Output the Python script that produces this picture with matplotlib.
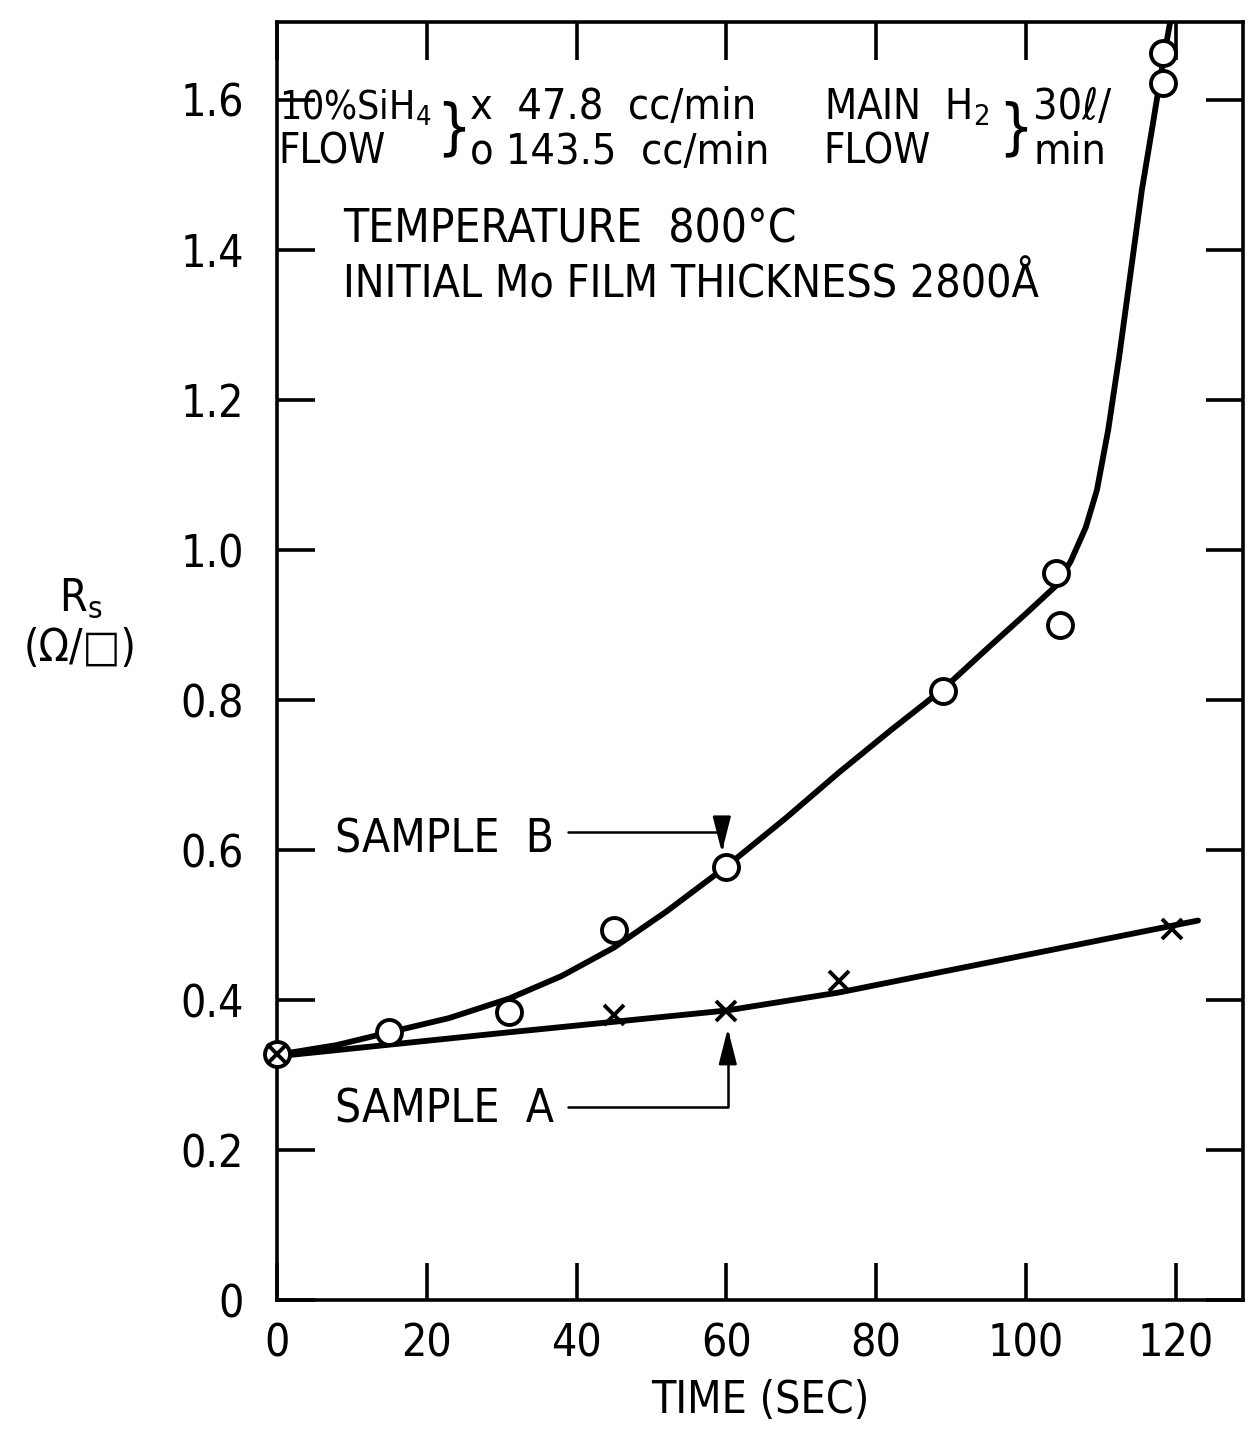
import matplotlib
matplotlib.use("Agg")
import matplotlib.pyplot as plt

plt.rcParams['font.family'] = ['DejaVu Sans']
plt.rcParams['font.stretch'] = 'condensed'
plt.rcParams['mathtext.default'] = 'regular'

# sample B (143.5 cc/min) measured points
b_time = [0, 15, 31, 45, 60, 89, 104, 104.5, 118.3, 118.3]
b_rs = [0.328, 0.358, 0.384, 0.494, 0.577, 0.812, 0.970, 0.900, 1.662, 1.622]
# sample A (47.8 cc/min) measured points
a_time = [0, 45, 60, 75, 119.5]
a_rs = [0.328, 0.380, 0.386, 0.425, 0.495]

# hand drawn fit curves
b_fit_t = [0, 8, 15, 23, 31, 38, 45, 52, 60, 68, 75, 82, 89, 95, 100, 104, 106,
           108, 109.5, 111, 112.5, 114, 115.5, 117, 118.3, 119.3]
b_fit_r = [0.327, 0.340, 0.357, 0.376, 0.402, 0.432, 0.470, 0.518, 0.578, 0.643,
           0.703, 0.760, 0.815, 0.870, 0.915, 0.952, 0.985, 1.030, 1.080, 1.160,
           1.260, 1.370, 1.480, 1.570, 1.650, 1.705]
a_fit_t = [0, 30, 45, 60, 75, 90, 105, 123]
a_fit_r = [0.325, 0.356, 0.371, 0.386, 0.410, 0.440, 0.470, 0.506]

x_ticks = [0, 20, 40, 60, 80, 100, 120]
y_ticks = [0, 0.2, 0.4, 0.6, 0.8, 1.0, 1.2, 1.4, 1.6]
y_labels = ['0', '0.2', '0.4', '0.6', '0.8', '1.0', '1.2', '1.4', '1.6']

fig = plt.figure(figsize=(12.54, 14.37), dpi=100)
ax = fig.add_axes([0.2209, 0.0953, 0.7703, 0.8894])

ax.plot(b_fit_t, b_fit_r, color='black', lw=4.2, solid_joinstyle='round',
        solid_capstyle='round', zorder=2)
ax.plot(a_fit_t, a_fit_r, color='black', lw=4.2, solid_joinstyle='round',
        solid_capstyle='round', zorder=2)
ax.plot(b_time, b_rs, 'o', ms=18, mfc='white', mec='black', mew=2.8,
        zorder=3, clip_on=False)
ax.plot(a_time, a_rs, 'x', ms=15, mec='black', mew=2.8, zorder=4,
        clip_on=False)

ax.set_xlim(0, 129)
ax.set_ylim(0, 1.704)
ax.set_xticks(x_ticks)
ax.set_yticks(y_ticks)
ax.set_yticklabels(y_labels)
ax.tick_params(direction='in', length=27, width=2.6, labelsize=32,
               top=True, right=True)
ax.tick_params(axis='y', pad=24)
ax.tick_params(axis='x', pad=16)
for s in ax.spines.values():
    s.set_linewidth(2.6)

ax.set_xlabel('TIME (SEC)', fontsize=32, labelpad=10)
fig.text(0.064, 0.584, 'R$_s$', fontsize=32, ha='center', va='center')
fig.text(0.064, 0.549, '(Ω/□)', fontsize=32, ha='center', va='center')

# legend / conditions block
tk = dict(fontsize=31, va='center', ha='left')
ax.text(0.2, 1.590, '10%SiH$_4$', fontsize=28, va='center', ha='left')
ax.text(0.2, 1.531, 'FLOW', fontsize=30, va='center', ha='left')
ax.text(21.3, 1.560, '}', fontsize=44, va='center', ha='left')
ax.text(25.8, 1.590, 'x  47.8  cc/min', **tk)
ax.text(25.8, 1.531, 'o 143.5  cc/min', **tk)
ax.text(73.0, 1.590, 'MAIN  H$_2$', fontsize=30, va='center', ha='left')
ax.text(73.0, 1.531, 'FLOW', fontsize=30, va='center', ha='left')
ax.text(96.3, 1.560, '}', fontsize=44, va='center', ha='left')
ax.text(101.0, 1.590, '30ℓ/', **tk)
ax.text(101.0, 1.531, 'min', **tk)
ax.text(8.8, 1.427, 'TEMPERATURE  800°C', fontsize=33, va='center')
ax.text(8.8, 1.353, 'INITIAL Mo FILM THICKNESS 2800Å', fontsize=32,
        va='center')

# sample labels with pointer arrows
ax.text(7.7, 0.613, 'SAMPLE  B', fontsize=33, va='center')
ax.text(7.7, 0.253, 'SAMPLE  A', fontsize=33, va='center')
arr = dict(arrowstyle='-|>,head_length=1.1,head_width=0.28', color='black',
           lw=1.8, mutation_scale=20, shrinkA=0, shrinkB=0,
           connectionstyle='angle,angleA=0,angleB=90,rad=0')
ax.annotate('', xy=(59.4, 0.597), xytext=(38.9, 0.624), arrowprops=arr)
ax.annotate('', xy=(60.2, 0.362), xytext=(38.9, 0.257), arrowprops=arr)

fig.savefig('out.png', dpi=100)
